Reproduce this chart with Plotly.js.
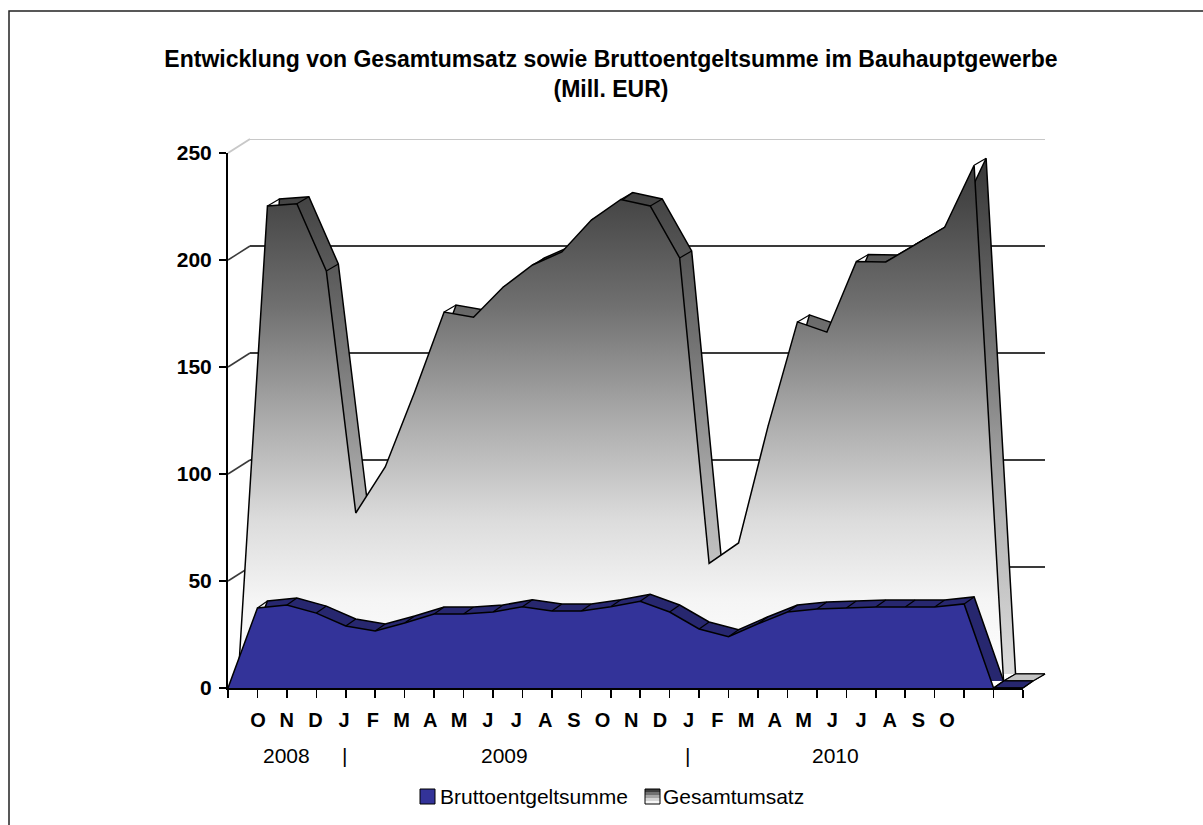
<!DOCTYPE html>
<html>
<head>
<meta charset="utf-8">
<script src="https://cdn.plot.ly/plotly-3.0.1.min.js"></script>
<style>html,body{margin:0;padding:0;background:#fff;}#chart{width:1203px;height:825px;}</style>
</head>
<body>
<div id="chart"></div>
<script>
// ---- data ----
const months = ['', 'O', 'N', 'D', 'J', 'F', 'M', 'A', 'M', 'J', 'J', 'A', 'S',
                'O', 'N', 'D', 'J', 'F', 'M', 'A', 'M', 'J', 'J', 'A', 'S', 'O', '', ''];
const bruttoentgeltsumme = [0, 37.4, 38.8, 35.0, 29.0, 26.6, 30.4, 34.6, 34.6, 35.5, 38.0, 36.0, 36.0,
                            38.0, 40.5, 35.5, 27.6, 24.0, 30.0, 35.5, 36.9, 37.4, 37.9, 37.9, 37.9, 39.3, 0, 0];
const gesamtumsatz = [0, 222, 223, 191.6, 78.5, 100, 135, 172.4, 170, 184, 194.4, 200.5, 215.4,
                      225, 222, 197.7, 55, 64.5, 119, 167.8, 163, 196, 195.8, 204, 212, 241, 0, 0];
const years = ['2008', '|', '2009', '|', '2010'];
const yearPos = [2, 4, 9.6, 15.95, 21.1];   // positions on the label axis
const yTicks = [0, 50, 100, 150, 200, 250];
const seriesNames = ['Bruttoentgeltsumme', 'Gesamtumsatz'];

// ---- layout geometry (pixels of the 1203x825 page) ----
const W = 1203, H = 825;
const px = v => v / W;
const py = v => (H - v) / H;
const nCat = months.length - 1;           // 27 intervals
const yMax = 250;
const front = {x: [228, 1023], y: [688, 153]};   // Bruttoentgeltsumme front face + visible axes
const mid   = {x: [238, 1033], y: [681, 146]};   // Gesamtumsatz front face / Bruttoentgeltsumme depth
const back  = {x: [250, 1045], y: [674, 139]};   // back wall / Gesamtumsatz depth
const labelSpan = [229.3, 1004.5];               // category labels sit on a slightly narrower scale
const unitX = (front.x[1] - front.x[0]) / nCat;
const unitY = (front.y[0] - front.y[1]) / yMax;
const padX = 1, padY = 10;
const midRangeX = [-padX, nCat + padX], midRangeY = [-padY, yMax];
const midDomX = [px(mid.x[0] - padX * unitX), px(mid.x[1] + padX * unitX)];
const midDomY = [py(mid.y[0] + padY * unitY), py(mid.y[1])];
const dFrontX = (mid.x[0] - front.x[0]) / unitX, dFrontY = (front.y[0] - mid.y[0]) / unitY;
const dBackX = (back.x[0] - mid.x[0]) / unitX, dBackY = (mid.y[0] - back.y[0]) / unitY;

const idx = months.map((_, i) => i);

function edges(vals, dx, dy) {
  const ex = [], ey = [];
  vals.forEach((v, i) => { ex.push(i, i + dx, null); ey.push(v, v + dy, null); });
  return {ex, ey};
}
function floorStrips(vals, dx, dy) {
  const sx = [], sy = [];
  for (let i = 0; i < vals.length - 1; i++) {
    if (vals[i] === 0 && vals[i + 1] === 0) {
      sx.push(i, i + 1, i + 1 + dx, i + dx, i, null);
      sy.push(0, 0, dy, dy, 0, null);
    }
  }
  return {sx, sy};
}
const bEdges = edges(bruttoentgeltsumme, -dFrontX, -dFrontY);
const gEdges = edges(gesamtumsatz, dBackX, dBackY);
const bFloor = floorStrips(bruttoentgeltsumme, -dFrontX, -dFrontY);
const gFloor = floorStrips(gesamtumsatz, dBackX, dBackY);

const grayFront = {type: 'vertical', start: 0, stop: 250,
  colorscale: [[0, '#ffffff'], [0.15, '#f5f5f5'], [0.3, '#dcdcdc'], [0.5, '#a8a8a8'], [0.7, '#707070'], [0.9, '#454545'], [1, '#383838']]};
const grayBack = {type: 'vertical', start: 0, stop: 250,
  colorscale: [[0, '#dcdcdc'], [0.3, '#b4b4b4'], [0.6, '#767676'], [1, '#303030']]};

const outline = {color: '#000000', width: 1.5, shape: 'linear'};
const edgeLine = {color: '#000000', width: 1.2};

const traces = [
  {x: idx, y: gesamtumsatz, xaxis: 'x', yaxis: 'y', type: 'scatter', mode: 'lines',
   fill: 'tozeroy', fillgradient: grayBack, line: outline, showlegend: false, hoverinfo: 'skip'},
  {x: gEdges.ex, y: gEdges.ey, xaxis: 'x2', yaxis: 'y2', type: 'scatter', mode: 'lines',
   line: edgeLine, showlegend: false, hoverinfo: 'skip'},
  {x: idx, y: gesamtumsatz, xaxis: 'x2', yaxis: 'y2', type: 'scatter', mode: 'lines', name: seriesNames[1],
   fill: 'tozeroy', fillgradient: grayFront, line: outline, showlegend: false},
  {x: gFloor.sx, y: gFloor.sy, xaxis: 'x2', yaxis: 'y2', type: 'scatter', mode: 'lines',
   fill: 'toself', fillcolor: '#c4c4c4', line: edgeLine, showlegend: false, hoverinfo: 'skip'},
  {x: idx, y: bruttoentgeltsumme, xaxis: 'x2', yaxis: 'y2', type: 'scatter', mode: 'lines',
   fill: 'tozeroy', fillcolor: '#27276f', line: outline, showlegend: false, hoverinfo: 'skip'},
  {x: bFloor.sx, y: bFloor.sy, xaxis: 'x2', yaxis: 'y2', type: 'scatter', mode: 'lines',
   fill: 'toself', fillcolor: '#27276f', line: edgeLine, showlegend: false, hoverinfo: 'skip'},
  {x: bEdges.ex, y: bEdges.ey, xaxis: 'x2', yaxis: 'y2', type: 'scatter', mode: 'lines',
   line: edgeLine, showlegend: false, hoverinfo: 'skip'},
  {x: idx, y: bruttoentgeltsumme, xaxis: 'x3', yaxis: 'y3', type: 'scatter', mode: 'lines', name: seriesNames[0],
   fill: 'tozeroy', fillcolor: '#333399', line: outline, showlegend: false}
];

const shapes = [];
shapes.push({type: 'rect', xref: 'paper', yref: 'paper', x0: px(9), y0: py(11), x1: 1.02, y1: -0.02,
  line: {color: '#222222', width: 1.5}, fillcolor: 'rgba(0,0,0,0)', layer: 'below'});
yTicks.forEach(v => {
  shapes.push({type: 'line', xref: 'paper', yref: 'paper',
    x0: px(front.x[0]), y0: py(front.y[0] - v * unitY),
    x1: px(back.x[0]), y1: py(back.y[0] - v * unitY),
    line: {color: v === 250 ? '#c8c8c8' : '#3a3a3a', width: v === 250 ? 2 : 1.5}, layer: 'below'});
});
shapes.push({type: 'line', xref: 'x domain', yref: 'y', x0: 0, x1: 1, y0: 250, y1: 250,
  line: {color: '#c8c8c8', width: 2}, layer: 'below'});

const legY = py(796);
shapes.push({type: 'rect', xref: 'paper', yref: 'paper', x0: px(420), x1: px(435), y0: py(804), y1: py(789),
  fillcolor: '#333399', line: {color: '#000', width: 1}});
const gradSteps = ['#3c3c3c', '#707070', '#a5a5a5', '#d4d4d4', '#f6f6f6'];
gradSteps.forEach((c, i) => {
  const top = 789 + i * 3;
  shapes.push({type: 'rect', xref: 'paper', yref: 'paper', x0: px(645), x1: px(660), y0: py(top + 3), y1: py(top),
    fillcolor: c, line: {width: 0}});
});
shapes.push({type: 'rect', xref: 'paper', yref: 'paper', x0: px(645), x1: px(660), y0: py(804), y1: py(789),
  fillcolor: 'rgba(0,0,0,0)', line: {color: '#000', width: 1}});

const FONT = 'Liberation Sans, Arial, sans-serif';
const annotations = [];
years.forEach((t, i) => {
  annotations.push({text: t, x: yearPos[i], xref: 'x4', y: py(755), yref: 'paper', showarrow: false,
    xanchor: 'center', yanchor: 'middle', font: {family: FONT, size: 21, color: '#000'}});
});
annotations.push({text: seriesNames[0], x: px(438), y: legY, xref: 'paper', yref: 'paper', showarrow: false,
  xanchor: 'left', yanchor: 'middle', font: {family: FONT, size: 21, color: '#000'}});
annotations.push({text: seriesNames[1], x: px(661), y: legY, xref: 'paper', yref: 'paper', showarrow: false,
  xanchor: 'left', yanchor: 'middle', font: {family: FONT, size: 21, color: '#000'}});

const layout = {
  width: W, height: H, autosize: false,
  margin: {l: 0, r: 0, t: 0, b: 0, pad: 0},
  paper_bgcolor: '#ffffff', plot_bgcolor: 'rgba(0,0,0,0)',
  showlegend: false,
  title: {text: 'Entwicklung von Gesamtumsatz sowie Bruttoentgeltsumme im Bauhauptgewerbe<br>(Mill. EUR)',
    x: px(611), xanchor: 'center', xref: 'paper', y: py(67), yanchor: 'middle', yref: 'paper',
    font: {family: FONT, size: 23, color: '#000', weight: 'bold'}},
  xaxis: {domain: [px(back.x[0]), px(back.x[1])], range: [0, nCat], anchor: 'y', visible: false, fixedrange: true},
  yaxis: {domain: [py(back.y[0]), py(back.y[1])], range: [0, yMax], anchor: 'x', showgrid: true,
    gridcolor: '#3a3a3a', gridwidth: 1.5,
    tickmode: 'array', tickvals: yTicks.filter(v => v > 0 && v < 250), showticklabels: false, ticks: '',
    zeroline: false, showline: false, fixedrange: true},
  xaxis2: {domain: midDomX, range: midRangeX, anchor: 'y2', visible: false, fixedrange: true},
  yaxis2: {domain: midDomY, range: midRangeY, anchor: 'x2', visible: false, fixedrange: true},
  xaxis3: {domain: [px(front.x[0]), px(front.x[1])], range: [0, nCat], anchor: 'y3', showgrid: false, zeroline: false,
    showline: true, linecolor: '#000', linewidth: 2, ticks: 'outside', ticklen: 8, tickwidth: 1.5, tickcolor: '#000',
    tickmode: 'array', tickvals: idx, showticklabels: false, fixedrange: true},
  xaxis4: {domain: [px(labelSpan[0]), px(labelSpan[1])], range: [0, nCat], anchor: 'y3', showgrid: false, zeroline: false,
    showline: false, ticks: '', tickmode: 'array', tickvals: idx, ticktext: months, ticklabelstandoff: 18,
    tickfont: {family: FONT, size: 20, color: '#000', weight: 'bold'}, fixedrange: true},
  yaxis3: {domain: [py(front.y[0]), py(front.y[1])], range: [0, yMax], anchor: 'x3', showgrid: false, zeroline: false,
    showline: true, linecolor: '#000', linewidth: 2, ticks: 'outside', ticklen: 7, tickwidth: 1.5, tickcolor: '#000',
    tickmode: 'array', tickvals: yTicks, ticklabelstandoff: 3,
    tickfont: {family: FONT, size: 21, color: '#000', weight: 'bold'}, fixedrange: true},
  shapes: shapes,
  annotations: annotations
};

Plotly.newPlot('chart', traces, layout, {displayModeBar: false, staticPlot: true});
</script>
</body>
</html>
